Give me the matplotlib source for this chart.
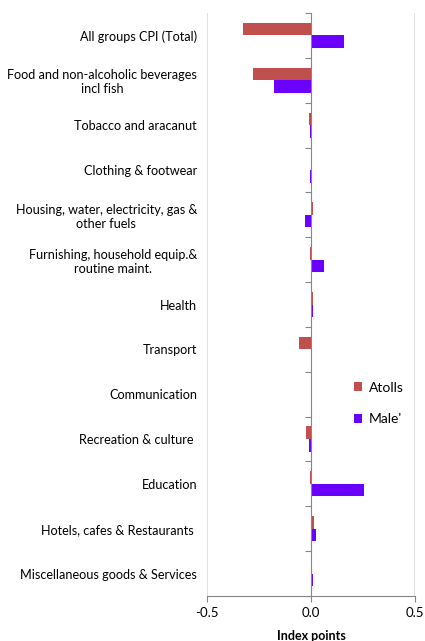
import matplotlib
matplotlib.use("Agg")
import matplotlib.pyplot as plt
import numpy as np

categories = [
    "All groups CPI (Total)",
    "Food and non-alcoholic beverages\nincl fish",
    "Tobacco and aracanut",
    "Clothing & footwear",
    "Housing, water, electricity, gas &\nother fuels",
    "Furnishing, household equip.&\nroutine maint.",
    "Health",
    "Transport",
    "Communication",
    "Recreation & culture ",
    "Education",
    "Hotels, cafes & Restaurants ",
    "Miscellaneous goods & Services",
]
atolls = [-0.327, -0.279, -0.008, 0.0, 0.008, -0.006, 0.010, -0.060, 0.0, -0.026, -0.006, 0.014, 0.0]
male = [0.160, -0.176, -0.006, -0.006, -0.030, 0.062, 0.008, 0.0, 0.0, -0.012, 0.256, 0.024, 0.012]
xticks = [-0.5, 0.0, 0.5]
xticklabels = ["-0.5", "0.0", "0.5"]

plt.rcParams['font.family'] = ['Lato', 'DejaVu Sans']

fig = plt.figure(figsize=(4.25, 6.41), dpi=100)
ax = fig.add_axes([207/425, 1-596/641, (415-207)/425, (596-13)/641])

y = np.arange(len(categories))
h = 0.28
red = "#C0504D"
purple = "#6A00FF"
ax.barh(y - h/2, atolls, height=h, color=red, label="Atolls", zorder=3)
ax.barh(y + h/2, male, height=h, color=purple, label="Male'", zorder=3)

ax.set_xlim(-0.5, 0.5)
ax.set_ylim(len(categories) - 0.5, -0.5)

ax.set_xticks(xticks)
ax.set_xticklabels(xticklabels, fontsize=9.5)
ax.tick_params(axis='x', length=4, color="#868686", pad=4)

for x in [-0.5, 0.5]:
    ax.axvline(x, color="#D9D9D9", lw=1.2, zorder=1)

ax.spines['top'].set_visible(False)
ax.spines['right'].set_visible(False)
ax.spines['bottom'].set_color("#868686")
ax.spines['left'].set_position(('data', 0))
ax.spines['left'].set_color("#868686")
ax.spines['left'].set_zorder(4)

ax.set_yticks(np.arange(-0.5, len(categories), 1.0))
ax.set_yticklabels([])
ax.tick_params(axis='y', which='major', length=4, color="#868686", direction='out')
ax.set_yticks(y, minor=True)
ax.set_yticklabels(categories, minor=True, fontsize=9.1, multialignment='center',
                   linespacing=1.2)
ax.tick_params(axis='y', which='minor', length=0, pad=82)

ax.set_xlabel("Index points", fontsize=9, fontweight='bold', labelpad=8)

ax.legend(loc='upper left', bbox_to_anchor=((348-207)/208, 1-(376-13)/583),
          frameon=False, fontsize=10, handlelength=0.6, handleheight=0.6,
          labelspacing=1.4, handletextpad=0.5, borderaxespad=0)

fig.savefig("out.png", dpi=100)
